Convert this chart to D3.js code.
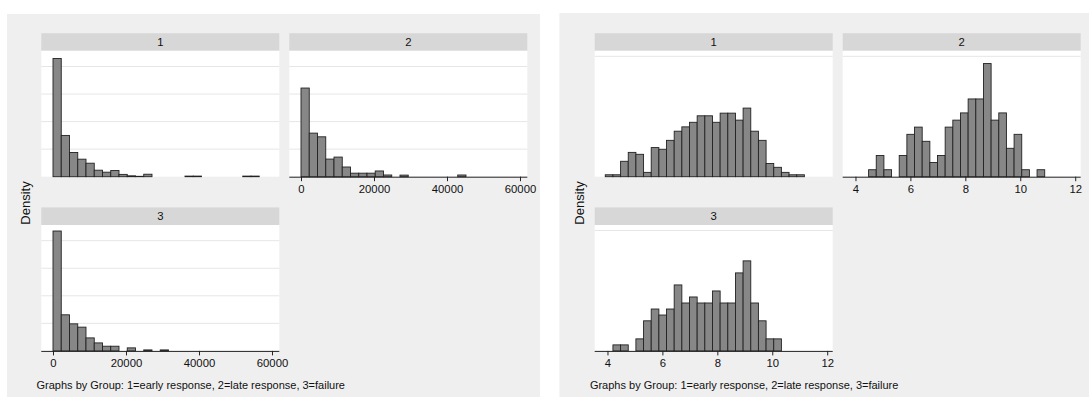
<!DOCTYPE html>
<html>
<head>
<meta charset="utf-8">
<script src="https://cdn.jsdelivr.net/npm/d3@7"></script>
<style>
  html, body { margin: 0; padding: 0; background: #ffffff; }
  svg { display: block; }
  text { font-family: "Liberation Sans", Arial, Helvetica, sans-serif; fill: #111; }
</style>
</head>
<body>
<svg id="chart" width="1089" height="401"></svg>
<script>
// ---- data ------------------------------------------------------------
const groups = ["1", "2", "3"];
const caption = "Graphs by Group: 1=early response, 2=late response, 3=failure";
const yTitle = "Density";

// Left graph: raw values, common bins for all three groups
const rawBinStart = 0;
const rawBinWidth = 2260;
const rawDensity1 = [2.145e-4, 7.49e-5, 4.40e-5, 3.18e-5, 2.45e-5, 1.18e-5, 8.2e-6, 1.13e-5,
  4.2e-6, 1.6e-6, 7e-7, 4.5e-6, 0, 0, 0, 0, 1.1e-6, 1.1e-6, 0, 0, 0, 0, 0, 1.1e-6, 1.1e-6];
const rawDensity2 = [1.609e-4, 7.91e-5, 7.24e-5, 3.20e-5, 3.56e-5, 1.76e-5, 6.4e-6, 6.4e-6,
  6.4e-6, 1.04e-5, 3.1e-6, 0, 2.9e-6, 0, 0, 0, 0, 0, 0, 3.1e-6, 0, 0, 0, 0, 0];
const rawDensity3 = [2.176e-4, 6.55e-5, 4.91e-5, 4.31e-5, 2.36e-5, 1.45e-5, 8.5e-6, 8.5e-6,
  0, 5.5e-6, 0, 1.8e-6, 0, 1.8e-6, 0, 0, 0, 0, 0, 0, 0, 0, 0, 0, 0];
const rawTicks = [0, 20000, 40000, 60000];
const rawGrid = [0, 5e-5, 1e-4, 1.5e-4, 2e-4];
const rawXDomain = [-3205, 62000];
const rawYMax = 2.285e-4;

// Right graph: log values, common bins for all three groups
const logBinStart = 3.92;
const logBinWidth = 0.2788;
const logDensity1 = [0.008, 0.008, 0.064, 0.101, 0.093, 0.018, 0.121, 0.114, 0.151, 0.189,
  0.207, 0.226, 0.253, 0.253, 0.226, 0.264, 0.264, 0.235, 0.285, 0.189, 0.151, 0.055,
  0.039, 0.018, 0.008, 0.008];
const logDensity2 = [0, 0, 0.029, 0.088, 0.029, 0, 0.088, 0.176, 0.206, 0.147, 0.059, 0.088,
  0.206, 0.235, 0.265, 0.323, 0.323, 0.470, 0.235, 0.265, 0.118, 0.176, 0.029, 0, 0.029, 0];
const logDensity3 = [0, 0.025, 0.025, 0, 0.050, 0.125, 0.174, 0.149, 0.174, 0.274, 0.199,
  0.224, 0.199, 0.199, 0.249, 0.199, 0.199, 0.324, 0.374, 0.199, 0.125, 0.050, 0.050, 0, 0, 0];
const logTicks = [4, 6, 8, 10, 12];
const logGrid = [0, 0.5];
const logXDomain = [3.535, 12.2];
const logYMax = 0.523;

// ---- drawing -----------------------------------------------------------
const svg = d3.select("#chart");

const graphs = [
  {
    dx: 0, densities: [rawDensity1, rawDensity2, rawDensity3],
    binStart: rawBinStart, binWidth: rawBinWidth,
    ticks: rawTicks, grid: rawGrid, xDomain: rawXDomain, yMax: rawYMax,
    fmt: d3.format("d"),
    bg: { x: 7, y: 14, w: 533, h: 383 }
  },
  {
    dx: 553.4, densities: [logDensity1, logDensity2, logDensity3],
    binStart: logBinStart, binWidth: logBinWidth,
    ticks: logTicks, grid: logGrid, xDomain: logXDomain, yMax: logYMax,
    fmt: d3.format("d"),
    bg: { x: 6, y: 13, w: 540, h: 384 }
  }
];

// panel geometry (relative to each graph's horizontal offset)
const panelW = 238;
const colX = [41.3, 289.3];
const stripTop = [33.2, 207.4];
const stripH = 17.6;
const plotH = 125.9;
const slots = [ { col: 0, row: 0, axis: false }, { col: 1, row: 0, axis: true }, { col: 0, row: 1, axis: true } ];

graphs.forEach(G => {
  const g = svg.append("g").attr("transform", `translate(${G.dx},0)`);

  g.append("rect")
    .attr("x", G.bg.x).attr("y", G.bg.y)
    .attr("width", G.bg.w).attr("height", G.bg.h)
    .attr("fill", "#efefef");

  const x = d3.scaleLinear().domain(G.xDomain).range([0, panelW]);
  const y = d3.scaleLinear().domain([0, G.yMax]).range([plotH, 0]);

  groups.forEach((name, k) => {
    const s = slots[k];
    const px = colX[s.col];
    const sy = stripTop[s.row];
    const py = sy + stripH;

    // strip header
    g.append("rect")
      .attr("x", px).attr("y", sy).attr("width", panelW).attr("height", stripH)
      .attr("fill", "#d7d7d7");
    g.append("text")
      .attr("x", px + panelW / 2).attr("y", sy + stripH / 2 + 4)
      .attr("text-anchor", "middle")
      .attr("font-size", "11.3px")
      .text(name);

    const p = g.append("g").attr("transform", `translate(${px},${py})`);

    // plot region
    p.append("rect")
      .attr("width", panelW).attr("height", plotH)
      .attr("fill", "#ffffff");

    // horizontal grid
    p.selectAll("line.grid")
      .data(G.grid.filter(v => v > 0))
      .join("line")
      .attr("class", "grid")
      .attr("x1", 0).attr("x2", panelW)
      .attr("y1", d => y(d)).attr("y2", d => y(d))
      .attr("stroke", "#e6e6e6").attr("stroke-width", 1);

    // histogram bars
    const bins = G.densities[k]
      .map((d, i) => ({ x0: G.binStart + i * G.binWidth, x1: G.binStart + (i + 1) * G.binWidth, d }))
      .filter(b => b.d > 0);
    p.selectAll("rect.bar")
      .data(bins)
      .join("rect")
      .attr("class", "bar")
      .attr("x", b => x(b.x0))
      .attr("width", b => x(b.x1) - x(b.x0))
      .attr("y", b => y(b.d))
      .attr("height", b => plotH - y(b.d))
      .attr("fill", "#878787")
      .attr("stroke", "#222")
      .attr("stroke-width", 0.9);

    // x axis
    if (s.axis) {
      const ax = p.append("g")
        .attr("transform", `translate(0,${plotH})`)
        .call(d3.axisBottom(x).tickValues(G.ticks).tickFormat(G.fmt)
          .tickSizeInner(4.5).tickSizeOuter(0).tickPadding(4));
      ax.select(".domain").attr("stroke", "#222").attr("stroke-width", 1)
        .attr("d", `M0,0.5H${panelW}`);
      ax.selectAll(".tick line").attr("stroke", "#222");
      ax.selectAll(".tick text")
        .attr("font-size", "11.3px")
        .attr("font-family", "'Liberation Sans', Arial, sans-serif")
        .attr("fill", "#111");
    }
  });

  // y title
  g.append("text")
    .attr("transform", "translate(30.3,203) rotate(-90)")
    .attr("text-anchor", "middle")
    .attr("font-size", "13px")
    .text(yTitle);

  // note
  g.append("text")
    .attr("x", 36.5).attr("y", 388.5)
    .attr("font-size", "11px")
    .text(caption);
});
</script>
</body>
</html>
